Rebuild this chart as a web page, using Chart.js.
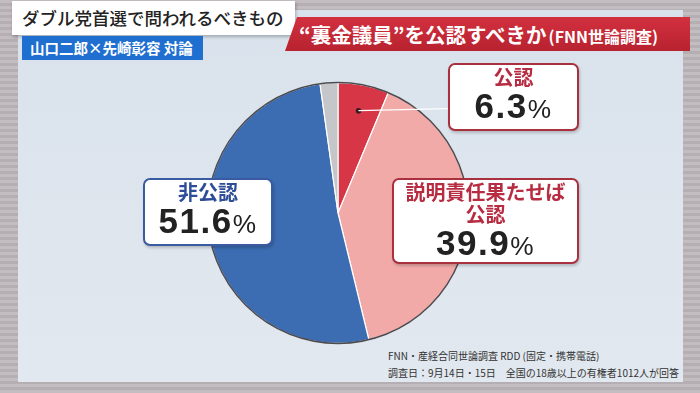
<!DOCTYPE html>
<html>
<head>
<meta charset="utf-8">
<script src="https://cdn.jsdelivr.net/npm/chart.js@4.4.1/dist/chart.umd.min.js"></script>
<style>
  body { margin: 0; width: 700px; height: 393px; overflow: hidden;
         background: repeating-linear-gradient(0deg, #c3bcc0 0 3px, #b5aeb3 3px 6px);
         font-family: "Noto Sans CJK JP", "Noto Sans", sans-serif; position: relative; }
  #panel { position: absolute; left: 18px; top: 10px; width: 665px; height: 372px;
           background: linear-gradient(180deg, #d9e2ec, #e2e8ef); }
  #title { position: absolute; left: 12px; top: 1px; width: 283px; height: 34px; background: #fff; white-space: nowrap;
           font-size: 17.5px; font-weight: 500; color: #222; line-height: 34px; padding-left: 10px; box-sizing: border-box;
           box-shadow: 1px 2px 3px rgba(0,0,0,0.25); }
  #tag { position: absolute; left: 22px; top: 36px; width: 181px; height: 24px; background: #1f6fd1; white-space: nowrap;
         color: #fff; font-size: 14.5px; font-weight: 700; line-height: 24px; padding-left: 8px; box-sizing: border-box; }
  #banner { position: absolute; left: 285px; top: 17px; width: 405px; height: 34px; background: linear-gradient(180deg, #d2303f, #b8222f);
            clip-path: polygon(12px 0, 100% 0, 100% 100%, 0 100%);
            color: #fff; font-size: 20.5px; font-weight: 700; line-height: 34px; padding-left: 14px; box-sizing: border-box; white-space: nowrap; }
  #banner small { font-size: 16px; font-weight: 700; margin-left: 2px; }
  #chartWrap { position: absolute; left: 205px; top: 80px; width: 266px; height: 266px; }
  .lbl { position: absolute; background: #fff; border-radius: 7px; text-align: center; box-sizing: border-box;
         box-shadow: 1px 2px 3px rgba(0,0,0,0.2); }
  .lbl .n { color: #222; font-family: "Liberation Sans", Arial, sans-serif; font-weight: 700; letter-spacing: 1.5px; }
  .lbl .n span { font-weight: 400; font-size: 0.75em; }
  .red { border: 2.5px solid #a8303f; color: #b82c42; }
  .blue { border: 2.5px solid #3a5aa2; color: #2e4d98; }
  #note { position: absolute; left: 388px; top: 347px; font-size: 10px; color: #333; line-height: 17px; white-space: nowrap; }
</style>
</head>
<body>
<div id="panel"></div>
<div id="title">ダブル党首選で問われるべきもの</div>
<div id="tag">山口二郎×先崎彰容 対論</div>
<div id="banner">“裏金議員”を公認すべきか<small>(FNN世論調査)</small></div>
<div id="chartWrap"><canvas id="canvas" width="266" height="266"></canvas></div>
<div id="labels"></div>
<div id="note">FNN・産経合同世論調査 RDD (固定・携帯電話)<br>調査日：9月14日・15日　全国の18歳以上の有権者1012人が回答</div>
<script>
const categories = ['公認', '説明責任果たせば公認', '非公認', 'その他'];
const values = [6.3, 39.9, 51.6, 2.2];
const sliceColors = ['#d63646', '#f2aaa9', '#3c6db3', '#c5c6c9'];
const labelLines = [['公認'], ['説明責任果たせば', '公認'], ['非公認'], []];

// label boxes (page positions)
const boxes = [
  { x: 448, y: 63, w: 131, h: 68, cls: 'red', fs: 20, nfs: 35 },
  { x: 392, y: 178, w: 187, h: 86, cls: 'red', fs: 20, nfs: 35 },
  { x: 143, y: 178, w: 130, h: 68, cls: 'blue', fs: 20, nfs: 35 }
];

const labelsDiv = document.getElementById('labels');
boxes.forEach(function(b, i) {
  const d = document.createElement('div');
  d.className = 'lbl ' + b.cls;
  d.style.left = b.x + 'px'; d.style.top = b.y + 'px';
  d.style.width = b.w + 'px'; d.style.height = b.h + 'px';
  let html = '';
  labelLines[i].forEach(function(t) {
    html += '<div style="font-size:' + b.fs + 'px;font-weight:700;line-height:21px;margin-top:1px">' + t + '</div>';
  });
  html += '<div class="n" style="font-size:' + b.nfs + 'px;line-height:38px">' + values[i].toFixed(1) + '<span>%</span></div>';
  d.innerHTML = html;
  labelsDiv.appendChild(d);
});

// outline + leader line for the small slice
const decor = {
  id: 'decor',
  afterDatasetsDraw(chart) {
    const ctx = chart.ctx;
    const arcs = chart.getDatasetMeta(0).data;
    const a0 = arcs[0];
    ctx.save();
    ctx.beginPath();
    ctx.arc(a0.x, a0.y, a0.outerRadius, 0, Math.PI * 2);
    ctx.strokeStyle = '#4a4a4f';
    ctx.lineWidth = 1.5;
    ctx.stroke();
    const mid = (a0.startAngle + a0.endAngle) / 2;
    const px = a0.x + Math.cos(mid) * a0.outerRadius * 0.8;
    const py = a0.y + Math.sin(mid) * a0.outerRadius * 0.8;
    ctx.beginPath();
    ctx.arc(px, py, 2.8, 0, Math.PI * 2);
    ctx.fillStyle = '#3a1a20';
    ctx.fill();
    ctx.beginPath();
    ctx.moveTo(px, py);
    ctx.lineTo(chart.width + 20, py - 3);
    ctx.strokeStyle = '#ffffff';
    ctx.lineWidth = 1.2;
    ctx.stroke();
    ctx.restore();
  }
};

var config = {
  type: 'pie',
  data: {
    labels: categories,
    datasets: [{
      data: values,
      backgroundColor: sliceColors,
      borderColor: '#ffffff',
      borderWidth: 1.2
    }]
  },
  options: {
    responsive: false,
    animation: false,
    layout: { padding: 2 },
    plugins: { legend: { display: false }, tooltip: { enabled: false } }
  },
  plugins: [decor]
};

var ctx = document.getElementById('canvas').getContext('2d');
window.myPie = new Chart(ctx, config);
</script>
</body>
</html>
